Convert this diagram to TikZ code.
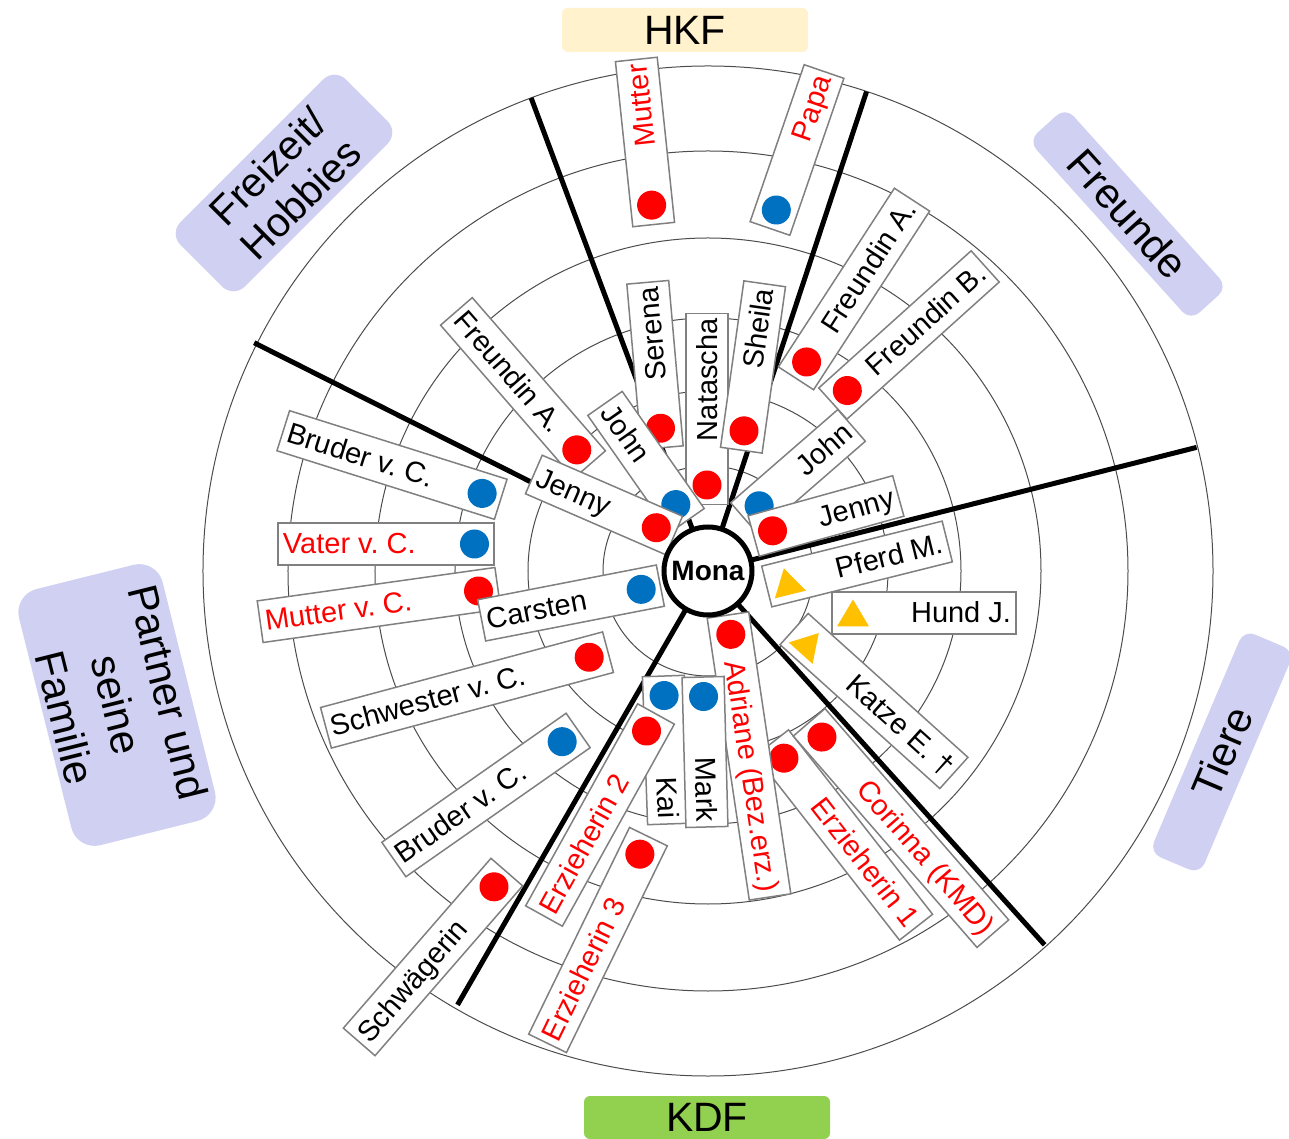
\documentclass[tikz,border=0pt]{standalone}
\usepackage{fontspec}
\setmainfont{Liberation Sans}
\frenchspacing
\definecolor{dotred}{RGB}{255,0,0}
\definecolor{dotblue}{RGB}{0,112,192}
\definecolor{triyellow}{RGB}{255,192,0}
\definecolor{boxgray}{RGB}{128,128,128}
\definecolor{catlav}{RGB}{208,208,242}
\definecolor{hkfyellow}{RGB}{255,242,204}
\definecolor{kdfgreen}{RGB}{146,208,80}
\newcommand{\namefont}{\fontsize{29}{33}\selectfont}
\newcommand{\rdot}{\tikz[baseline=-10pt]\fill[dotred] (0pt,0pt) circle (14.5pt);}
\newcommand{\bdot}{\tikz[baseline=-10pt]\fill[dotblue] (0pt,0pt) circle (14.5pt);}
\newcommand{\ytri}{\tikz[baseline=-10pt]\fill[triyellow] (-16pt,-13.5pt) -- (16pt,-13.5pt) -- (0pt,13.5pt) -- cycle;}
\newcommand{\rtxt}[1]{\textcolor{dotred}{#1}}
\newcommand{\lbl}[3]{\makebox[\dimexpr#1pt-10pt\relax]{#2\hfill#3}}

\begin{document}
\begin{tikzpicture}[x=1pt,y=1pt,
  ring/.style={draw=black!70,line width=1pt},
  sector/.style={line width=5pt},
  namebox/.style={draw=boxgray,line width=1.5pt,fill=white,font=\namefont,inner xsep=5pt,inner ysep=5pt,text height=26pt,text depth=6pt},
  catbox/.style={fill=catlav,rounded corners=16pt,align=center,inner sep=0pt},
  monanode/.style={circle,draw,line width=5pt,fill=white,minimum size=88pt,inner sep=0pt,font=\fontsize{28}{32}\selectfont\bfseries}]
\path[use as bounding box] (-708,-568) rectangle (581,571);
\draw[ring] (0,0) circle (105);
\draw[ring] (0,0) circle (180);
\draw[ring] (0,0) circle (253);
\draw[ring] (0,0) circle (333);
\draw[ring] (0,0) circle (420);
\draw[ring] (0,0) circle (505);
\draw[sector] (110.5:46) -- (110.5:505);
\draw[sector] (71.7:46) -- (71.7:505);
\draw[sector] (153.3:46) -- (153.3:508);
\draw[sector] (14.2:46) -- (14.2:504);
\draw[sector] (-48:46) -- (-48:503);
\draw[sector] (-120:46) -- (-120:501);
\node[fill=hkfyellow,rounded corners=6pt,minimum width=246pt,minimum height=44pt,inner sep=0pt,font=\fontsize{41}{48}\selectfont] (hkf) at (-23,541) {HKF};
\node[fill=kdfgreen,rounded corners=6pt,minimum width=246pt,minimum height=43pt,inner sep=0pt,font=\fontsize{41}{48}\selectfont] (kdf) at (-1,-546.5) {KDF};
\node[catbox,rotate=45,minimum width=234pt,minimum height=91pt,font=\fontsize{41}{46}\selectfont] (freizeit) at (-424,388) {Freizeit/\\Hobbies};
\node[catbox,rotate=-48,minimum width=242pt,minimum height=50pt,rounded corners=12pt,font=\fontsize{42}{50}\selectfont] (freunde) at (420,357) {Freunde};
\node[catbox,rotate=67,minimum width=242pt,minimum height=55pt,rounded corners=12pt,font=\fontsize{42}{50}\selectfont] (tiere) at (514,-181) {Tiere};
\node[catbox,rotate=-76,minimum width=264pt,minimum height=148pt,rounded corners=24pt,font=\fontsize{42}{53}\selectfont] (partner) at (-591,-134) {Partner und\\seine\\Familie};
\node[namebox,rotate=96] (mutter) at (-63,429) {\lbl{166}{\rdot}{\rtxt{Mutter}}};
\node[namebox,rotate=71] (papa) at (89,421) {\lbl{166}{\bdot}{\rtxt{Papa}}};
\node[namebox,rotate=57] (freundinAr) at (146,282) {\lbl{213}{\rdot}{Freundin A.}};
\node[namebox,rotate=42] (freundinB) at (201,236) {\lbl{205}{\rdot}{Freundin B.}};
\node[namebox,rotate=95] (serena) at (-53,206) {\lbl{166}{\rdot}{Serena}};
\node[namebox,rotate=90] (natascha) at (-1,162) {\lbl{191}{\rdot}{Natascha}};
\node[namebox,rotate=82] (sheila) at (45,204) {\lbl{168}{\rdot}{Sheila}};
\node[namebox,rotate=41] (johnr) at (90,99) {\lbl{142}{\bdot}{John}};
\node[namebox,rotate=15.5] (jennyr) at (118,55) {\lbl{150}{\rdot}{Jenny}};
\node[namebox,rotate=14] (pferd) at (149,7) {\lbl{186}{\ytri}{Pferd M.}};
\node[namebox] (hund) at (216,-42) {\lbl{184}{\ytri}{Hund J.}};
\node[namebox,rotate=-42] (katze) at (166,-130) {\lbl{215}{\ytri}{Katze E. †}};
\node[namebox,rotate=-52] (erz1) at (136,-264) {\lbl{234}{\rdot}{\rtxt{Erzieherin 1}}};
\node[namebox,rotate=-49] (corinna) at (193,-257) {\lbl{280}{\rdot}{\rtxt{Corinna (KMD)}}};
\node[namebox,rotate=-81.5] (adriane) at (41,-185) {\lbl{285}{\rdot}{\rtxt{Adriane (Bez.erz.)}}};
\node[namebox,rotate=-88] (kai) at (-42,-179) {\lbl{148}{\bdot}{Kai}};
\node[namebox,rotate=-88.5] (mark) at (-3,-181) {\lbl{150}{\bdot}{Mark}};
\node[namebox,rotate=61] (erz2) at (-108,-244) {\lbl{231}{\rtxt{Erzieherin 2}}{\rdot}};
\node[namebox,rotate=64] (erz3) at (-110,-369) {\lbl{230}{\rtxt{Erzieherin 3}}{\rdot}};
\node[namebox,rotate=49] (schwaegerin) at (-275,-386) {\lbl{225}{Schwägerin}{\rdot}};
\node[namebox,rotate=35] (bruderlo) at (-222,-224) {\lbl{225}{Bruder v. C.}{\bdot}};
\node[namebox,rotate=15] (schwester) at (-241,-119) {\lbl{292}{Schwester v. C.}{\rdot}};
\node[namebox,rotate=8] (mutterc) at (-329,-34) {\lbl{240}{\rtxt{Mutter v. C.}}{\rdot}};
\node[namebox,rotate=11] (carsten) at (-137,-32) {\lbl{182}{Carsten}{\bdot}};
\node[namebox] (vaterc) at (-322,27) {\lbl{216}{\rtxt{Vater v. C.}}{\bdot}};
\node[namebox,rotate=-17.5] (bruderup) at (-316,106) {\lbl{228}{Bruder v. C.}{\bdot}};
\node[namebox,rotate=-49] (freundinAl) at (-185,183) {\lbl{203}{Freundin A.}{\rdot}};
\node[namebox,rotate=-55] (johnl) at (-62,109) {\lbl{143}{John}{\bdot}};
\node[namebox,rotate=-23.5] (jennyl) at (-104,66) {\lbl{153}{Jenny}{\rdot}};
\node[monanode] (mona) at (0,0) {Mona};
\end{tikzpicture}
\end{document}
